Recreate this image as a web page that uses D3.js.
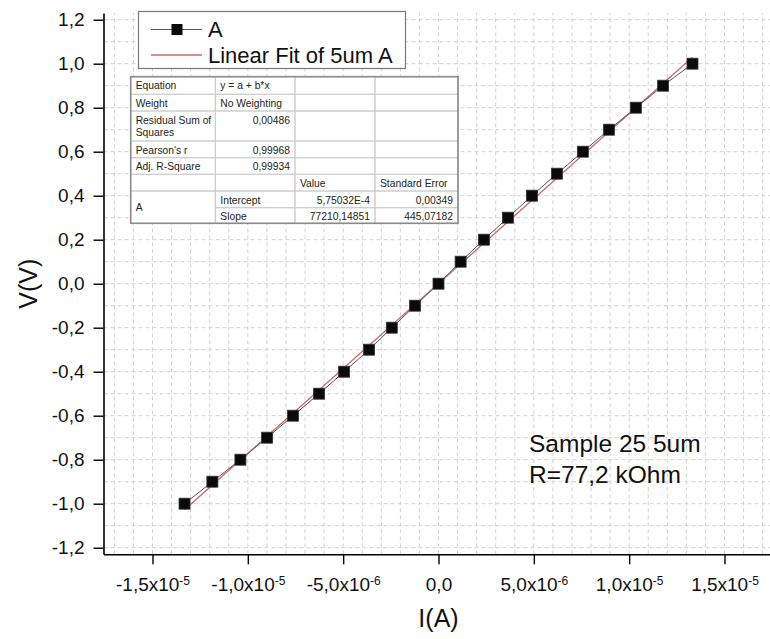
<!DOCTYPE html>
<html>
<head>
<meta charset="utf-8">
<script src="https://cdn.jsdelivr.net/npm/d3@7"></script>
<style>
  body { margin: 0; background: #fff; }
  text { font-family: Arial, "Liberation Sans", sans-serif; }
</style>
</head>
<body>
<svg id="chart" width="770" height="639"></svg>
<script>
// measured points (V vs I)
var voltage = [-1.0, -0.9, -0.8, -0.7, -0.6, -0.5, -0.4, -0.3, -0.2, -0.1, 0.0,
               0.1, 0.2, 0.3, 0.4, 0.5, 0.6, 0.7, 0.8, 0.9, 1.0]
var current = [-13.32e-6, -11.86e-6, -10.39e-6, -8.99e-6, -7.63e-6, -6.26e-6, -4.95e-6, -3.64e-6, -2.45e-6, -1.23e-6, 0,
               1.16e-6, 2.38e-6, 3.64e-6, 4.90e-6, 6.21e-6, 7.57e-6, 8.94e-6, 10.35e-6, 11.78e-6, 13.32e-6]

// linear fit parameters
var fitIntercept = 5.75032e-4
var fitSlope = 77210.14851

var yTicks = [-1.2, -1.0, -0.8, -0.6, -0.4, -0.2, 0.0, 0.2, 0.4, 0.6, 0.8, 1.0, 1.2]
var yTickLabels = ["-1,2", "-1,0", "-0,8", "-0,6", "-0,4", "-0,2", "0,0", "0,2", "0,4", "0,6", "0,8", "1,0", "1,2"]
var xTicks = [-1.5e-5, -1.0e-5, -5.0e-6, 0, 5.0e-6, 1.0e-5, 1.5e-5]
var xTickMantissa = ["-1,5", "-1,0", "-5,0", "0,0", "5,0", "1,0", "1,5"]
var xTickExponent = ["-5", "-5", "-6", "", "-6", "-5", "-5"]

var legendLabels = ["A", "Linear Fit of 5um A"]
var annotationLines = ["Sample 25 5um", "R=77,2 kOhm"]
var xTitle = "I(A)"
var yTitle = "V(V)"

var tableRows = [
  ["Equation", "y = a + b*x", "", ""],
  ["Weight", "No Weighting", "", ""],
  ["Residual Sum of|Squares", "0,00486", "", ""],
  ["Pearson's r", "0,99968", "", ""],
  ["Adj. R-Square", "0,99934", "", ""],
  ["", "", "Value", "Standard Error"],
  ["A", "Intercept", "5,75032E-4", "0,00349"],
  ["", "Slope", "77210,14851", "445,07182"]
]

var svg = d3.select("#chart")

var x = d3.scaleLinear().domain([-1.757e-5, 1.757e-5]).range([103.5, 773.5])
var y = d3.scaleLinear().domain([-1.23, 1.23]).range([554.3, 13.1])

var xMinor = d3.range(-17, 18).map(d => d * 1e-6)
var yMinor = d3.range(-12, 13).map(d => d / 10)

// grid
var grid = svg.append("g")
grid.selectAll("line.gx").data(xMinor).enter().append("line")
  .attr("x1", d => x(d)).attr("x2", d => x(d))
  .attr("y1", y.range()[0]).attr("y2", y.range()[1])
  .attr("stroke", "#d2d2d2").attr("stroke-width", 1).attr("stroke-dasharray", "4,3")
grid.selectAll("line.gy").data(yMinor).enter().append("line")
  .attr("x1", x.range()[0]).attr("x2", 770)
  .attr("y1", d => y(d)).attr("y2", d => y(d))
  .attr("stroke", "#d2d2d2").attr("stroke-width", 1).attr("stroke-dasharray", "4,3")

// axes
var yAxisMinor = d3.axisLeft(y).tickValues(yMinor).tickSize(5).tickSizeOuter(0).tickFormat("")
var yAxis = d3.axisLeft(y).tickValues(yTicks).tickSize(10).tickSizeOuter(0).tickPadding(9)
  .tickFormat((d, i) => yTickLabels[i])
var xAxisMinor = d3.axisBottom(x).tickValues(xMinor).tickSize(6).tickSizeOuter(0).tickFormat("")
var xAxis = d3.axisBottom(x).tickValues(xTicks).tickSize(10).tickSizeOuter(0).tickPadding(8)
  .tickFormat((d, i) => xTickMantissa[i])

var gy = svg.append("g").attr("transform", "translate(" + x.range()[0] + ",0)")
gy.call(yAxisMinor)
gy.call(yAxis)
var gx = svg.append("g").attr("transform", "translate(0," + y.range()[0] + ")")
gx.call(xAxisMinor)
gx.call(xAxis)

svg.selectAll(".domain").attr("stroke", "#000").attr("stroke-width", 1.6)
svg.selectAll(".tick line").attr("stroke", "#000").attr("stroke-width", 1.4)
gy.selectAll("text").attr("font-size", 19).attr("fill", "#111")
  .style("font-family", "Arial, 'Liberation Sans', sans-serif")
gx.selectAll("text").attr("font-size", 19).attr("fill", "#111").attr("dy", "1em")
  .style("font-family", "Arial, 'Liberation Sans', sans-serif")
  .each(function(d, i) {
    if (xTickExponent[i] === undefined || xTickExponent[i] === "") return
    var t = d3.select(this)
    t.text(null)
    t.append("tspan").text(xTickMantissa[i] + "x10")
    t.append("tspan").attr("dy", "-0.55em").attr("font-size", 12).text(xTickExponent[i])
  })

// axis titles
svg.append("text").attr("x", x(0)).attr("y", 627).attr("text-anchor", "middle")
  .attr("font-size", 25).attr("fill", "#111").text(xTitle)
svg.append("text").attr("transform", "translate(37," + y(0) + ") rotate(-90)")
  .attr("text-anchor", "middle").attr("font-size", 25).attr("fill", "#111").text(yTitle)

// fit line
var fitX = d3.extent(current)
svg.append("line")
  .attr("x1", x(fitX[0])).attr("y1", y(fitIntercept + fitSlope * fitX[0]))
  .attr("x2", x(fitX[1])).attr("y2", y(fitIntercept + fitSlope * fitX[1]))
  .attr("stroke", "#c96a6a").attr("stroke-width", 1.3)

// data line + markers
var pts = current.map((c, i) => [c, voltage[i]])
svg.append("path")
  .attr("d", d3.line().x(d => x(d[0])).y(d => y(d[1]))(pts))
  .attr("fill", "none").attr("stroke", "#555").attr("stroke-width", 1)
svg.selectAll("rect.pt").data(pts).enter().append("rect")
  .attr("x", d => x(d[0]) - 5.5).attr("y", d => y(d[1]) - 5.5)
  .attr("width", 11).attr("height", 11)
  .attr("fill", "#0a0a0a").attr("stroke", "#333").attr("stroke-width", 0.8)

// legend
var lg = svg.append("g")
lg.append("rect").attr("x", 138.5).attr("y", 11.5).attr("width", 267).attr("height", 57)
  .attr("fill", "#fff").attr("stroke", "#777").attr("stroke-width", 1.2)
lg.append("line").attr("x1", 151).attr("x2", 202).attr("y1", 29.5).attr("y2", 29.5)
  .attr("stroke", "#555").attr("stroke-width", 1)
lg.append("rect").attr("x", 171.5).attr("y", 24).attr("width", 11).attr("height", 11).attr("fill", "#0a0a0a")
lg.append("line").attr("x1", 151).attr("x2", 202).attr("y1", 55).attr("y2", 55)
  .attr("stroke", "#c96a6a").attr("stroke-width", 1.3)
lg.selectAll("text").data(legendLabels).enter().append("text")
  .attr("x", 208).attr("y", (d, i) => 37 + i * 25.5)
  .attr("font-size", 22).attr("fill", "#111").text(d => d)

// fit table
var colX = [130.7, 215.3, 295, 375, 458]
var rowY = [76.7, 94.3, 111, 141, 157.7, 174.3, 191, 207.7, 223.3]
var tb = svg.append("g")
tb.append("rect").attr("x", colX[0]).attr("y", rowY[0])
  .attr("width", colX[4] - colX[0]).attr("height", rowY[8] - rowY[0]).attr("fill", "#fff")
tableRows.forEach(function(row, r) {
  row.forEach(function(cell, c) {
    if (c == 0 && r == 7) return
    var h = (c == 0 && r == 6) ? rowY[8] - rowY[6] : rowY[r + 1] - rowY[r]
    tb.append("rect").attr("x", colX[c]).attr("y", rowY[r])
      .attr("width", colX[c + 1] - colX[c]).attr("height", h)
      .attr("fill", "none").attr("stroke", "#cdcdcd").attr("stroke-width", 1)
    if (!cell) return
    var numeric = /^[\d,E\-]+$/.test(cell)
    var lines = cell.split("|")
    var ty = (c == 0 && r == 6) ? rowY[6] + h / 2 + 4 : rowY[r] + 12.5
    lines.forEach(function(line, k) {
      tb.append("text")
        .attr("x", numeric ? colX[c + 1] - 5 : colX[c] + 5)
        .attr("y", ty + k * 12.5)
        .attr("text-anchor", numeric ? "end" : "start")
        .attr("font-size", 10.3).attr("fill", "#222").text(line)
    })
  })
})
tb.append("rect").attr("x", colX[0]).attr("y", rowY[0])
  .attr("width", colX[4] - colX[0]).attr("height", rowY[8] - rowY[0])
  .attr("fill", "none").attr("stroke", "#8a8a8a").attr("stroke-width", 1.6)

// annotation
svg.selectAll("text.note").data(annotationLines).enter().append("text")
  .attr("x", 529).attr("y", (d, i) => 452 + i * 30.5)
  .attr("font-size", 24.5).attr("fill", "#111").text(d => d)
</script>
</body>
</html>
